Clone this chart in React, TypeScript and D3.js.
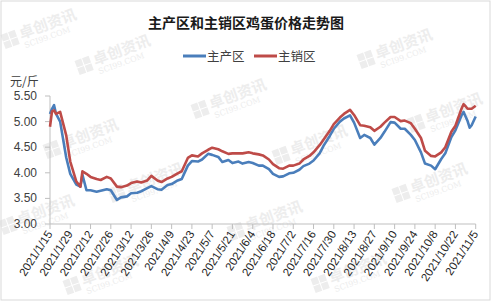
import React from "react";
import * as d3 from "d3";

const dates = [
  "2021-01-15","2021-01-18","2021-01-19","2021-01-20","2021-01-22","2021-01-27","2021-01-29",
  "2021-02-03","2021-02-05","2021-02-08","2021-02-10","2021-02-12","2021-02-17","2021-02-19","2021-02-24","2021-02-26",
  "2021-03-03","2021-03-05","2021-03-10","2021-03-12","2021-03-17","2021-03-19","2021-03-24","2021-03-26","2021-03-31",
  "2021-04-02","2021-04-07","2021-04-09","2021-04-14","2021-04-16","2021-04-21","2021-04-23","2021-04-28","2021-04-30",
  "2021-05-05","2021-05-07","2021-05-12","2021-05-14","2021-05-19","2021-05-21","2021-05-26","2021-05-28",
  "2021-06-02","2021-06-04","2021-06-09","2021-06-11","2021-06-16","2021-06-18","2021-06-23","2021-06-25","2021-06-30",
  "2021-07-02","2021-07-07","2021-07-09","2021-07-14","2021-07-16","2021-07-21","2021-07-23","2021-07-28","2021-07-30",
  "2021-08-04","2021-08-06","2021-08-11","2021-08-13","2021-08-18","2021-08-20","2021-08-25","2021-08-27",
  "2021-09-01","2021-09-03","2021-09-08","2021-09-10","2021-09-15","2021-09-17","2021-09-22","2021-09-24","2021-09-29",
  "2021-10-01","2021-10-06","2021-10-08","2021-10-13","2021-10-15","2021-10-20","2021-10-22","2021-10-27","2021-10-28","2021-10-29",
  "2021-11-01","2021-11-02","2021-11-03","2021-11-05",
];

const mainProduction = [
  5.15,5.25,5.32,5.15,5.00,4.30,3.98,
  3.77,3.73,3.96,3.66,3.66,3.63,3.65,3.68,3.66,
  3.47,3.52,3.54,3.60,3.61,3.64,3.70,3.74,3.68,
  3.67,3.76,3.78,3.85,3.88,4.14,4.23,4.22,4.26,
  4.37,4.35,4.31,4.21,4.25,4.19,4.22,4.18,
  4.21,4.19,4.14,4.14,4.07,3.98,3.92,3.93,3.99,
  4.00,4.06,4.13,4.18,4.24,4.38,4.53,4.72,4.86,
  5.00,5.06,5.12,4.98,4.68,4.74,4.68,4.55,
  4.68,4.80,4.99,4.98,4.86,4.86,4.74,4.64,4.40,
  4.18,4.14,4.07,4.27,4.38,4.70,4.83,5.12,5.19,5.10,
  5.01,4.88,4.93,5.10,
];

const mainSales = [
  4.90,5.20,5.22,5.15,5.19,4.73,4.22,
  3.83,3.73,4.03,3.98,3.92,3.88,3.86,3.92,3.89,
  3.73,3.72,3.75,3.80,3.83,3.81,3.85,3.94,3.85,
  3.82,3.89,3.92,3.99,4.03,4.29,4.34,4.32,4.38,
  4.45,4.49,4.46,4.42,4.37,4.38,4.38,4.38,
  4.40,4.38,4.36,4.34,4.26,4.17,4.09,4.08,4.14,
  4.14,4.18,4.26,4.33,4.40,4.54,4.65,4.82,4.95,
  5.08,5.15,5.23,5.13,4.93,4.92,4.89,4.82,
  4.90,4.98,5.09,5.09,5.01,5.02,4.97,4.86,4.68,
  4.43,4.33,4.32,4.40,4.50,4.80,4.92,5.25,5.34,5.30,
  5.25,5.25,5.25,5.31,
];

const tickLabels = [
  "2021/1/15","2021/1/29","2021/2/12","2021/2/26","2021/3/12","2021/3/26","2021/4/9","2021/4/23",
  "2021/5/7","2021/5/21","2021/6/4","2021/6/18","2021/7/2","2021/7/16","2021/7/30","2021/8/13",
  "2021/8/27","2021/9/10","2021/9/24","2021/10/8","2021/10/22","2021/11/5",
];
const yTicks = [3.0, 3.5, 4.0, 4.5, 5.0, 5.5];

const seriesNames = ["主产区", "主销区"];
const colors = ["#4a7ebb", "#be4b48"];

const watermarks: [number, number][] = [
  [6, 50], [80, 76], [362, 70], [196, 120], [48, 160], [113, 204],
  [277, 166], [397, 204], [412, 134], [232, 242], [4, 236], [68, 296], [316, 294],
];

const parse = d3.timeParse("%Y-%m-%d");
const start = parse(dates[0]) as Date;
function weekdayIndex(s: string): number {
  const d = parse(s) as Date;
  return d3.timeDay.range(start, d).filter((t) => t.getDay() !== 0 && t.getDay() !== 6).length;
}

export default function App() {
  const W = 492, H = 302;
  const x0 = 50, x1 = 475.7, yTop = 96, yBot = 224;
  const lastIdx = weekdayIndex(dates[dates.length - 1]);
  const x = d3.scaleLinear().domain([0, lastIdx]).range([x0, x1]);
  const y = d3.scaleLinear().domain([3, 5.5]).range([yBot, yTop]);
  const idx = dates.map(weekdayIndex);
  const line = d3.line<number>().x((_, i) => x(idx[i])).y((v) => y(v));
  const tickIdx = tickLabels.map((l) => weekdayIndex(l.replace(/\//g, "-").replace(/-(\d)(?=-|$)/g, "-0$1")));
  const cjk = "'Noto Sans CJK SC', sans-serif";
  const num = "'Liberation Sans', Arial, sans-serif";

  return (
    <svg width={W} height={H} style={{ position: "absolute", left: 0, top: 0, background: "#fff" }}>
      <rect x={0} y={0} width={W} height={H} fill="#fff" />
      {watermarks.map(([wx, wy], i) => (
        <g key={i} transform={`translate(${wx},${wy}) rotate(-20)`} fill="#ededed">
          <rect x={0} y={-16} width={7} height={7} />
          <rect x={8} y={-16} width={7} height={7} />
          <rect x={0} y={-8} width={7} height={7} />
          <rect x={8} y={-8} width={7} height={7} />
          <text x={18} y={-5} fontFamily={cjk} fontSize={15} fontWeight={700}>卓创资讯</text>
          <text x={19} y={5} fontFamily="'DejaVu Serif', serif" fontSize={8}>SCI99.COM</text>
        </g>
      ))}
      <rect x={1} y={1} width={W - 3} height={H - 3} fill="none" stroke="#d9d9d9" strokeWidth={1} />
      <text x={246} y={28} textAnchor="middle" fontFamily={cjk} fontSize={14} fontWeight={700} fill="#1a1a1a">
        主产区和主销区鸡蛋价格走势图
      </text>
      {seriesNames.map((n, i) => (
        <g key={n} transform={`translate(${183 + i * 71},56)`}>
          <line x1={0} x2={23} y1={0} y2={0} stroke={colors[i]} strokeWidth={3} />
          <text x={24} y={4.5} fontFamily={cjk} fontSize={12.5} fill="#404040">{n}</text>
        </g>
      ))}
      <text x={10} y={86} fontFamily={cjk} fontSize={12} fill="#404040">元/斤</text>
      <line x1={x0} x2={x0} y1={yTop} y2={yBot} stroke="#bfbfbf" />
      {yTicks.map((t) => (
        <g key={t}>
          <line x1={x0 - 5} x2={x0} y1={y(t)} y2={y(t)} stroke="#bfbfbf" />
          <text x={37} y={y(t) + 4} textAnchor="end" fontFamily={num} fontSize={12} fill="#404040">
            {t.toFixed(2)}
          </text>
        </g>
      ))}
      <line x1={x0} x2={x1} y1={yBot} y2={yBot} stroke="#bfbfbf" />
      {tickIdx.map((ti, i) => (
        <g key={i}>
          <line x1={x(ti)} x2={x(ti)} y1={yBot} y2={yBot + 5} stroke="#bfbfbf" />
          <text
            transform={`translate(${x(ti) + 3},${yBot + 10}) rotate(-57)`}
            textAnchor="end"
            fontFamily={num}
            fontSize={11.5}
            fill="#262626"
          >
            {tickLabels[i]}
          </text>
        </g>
      ))}
      <path d={line(mainProduction) || ""} fill="none" stroke={colors[0]} strokeWidth={2.6} strokeLinejoin="round" />
      <path d={line(mainSales) || ""} fill="none" stroke={colors[1]} strokeWidth={2.6} strokeLinejoin="round" />
    </svg>
  );
}
